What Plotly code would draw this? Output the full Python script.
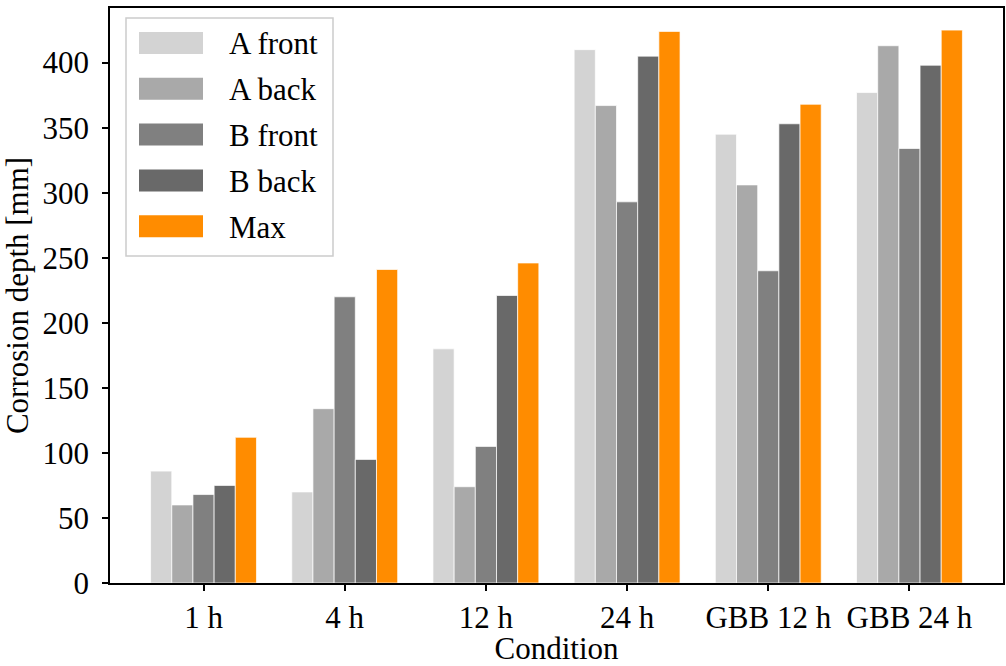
import plotly.graph_objects as go

categories = ["1 h", "4 h", "12 h", "24 h", "GBB 12 h", "GBB 24 h"]
series_names = ["A front", "A back", "B front", "B back", "Max"]
a_front = [86, 70, 180, 410, 345, 377]
a_back = [60, 134, 74, 367, 306, 413]
b_front = [68, 220, 105, 293, 240, 334]
b_back = [75, 95, 221, 405, 353, 398]
max_vals = [112, 241, 246, 424, 368, 425]
colors = ["#d3d3d3", "#a9a9a9", "#808080", "#696969", "#ff8c00"]
y_ticks = [0, 50, 100, 150, 200, 250, 300, 350, 400]

series_values = [a_front, a_back, b_front, b_back, max_vals]
FONT = "Liberation Serif, Times New Roman, serif"
FS = 31

fig = go.Figure()
for name, vals, col in zip(series_names, series_values, colors):
    fig.add_trace(go.Bar(
        x=categories, y=vals, name=name,
        marker=dict(color=col, line=dict(color="rgba(255,255,255,0.7)", width=1)),
        showlegend=False,
    ))

# manual matplotlib-style legend (positions in pixels, converted to plot-area fractions)
W, H = 1006, 666
ML, MR, MT, MB = 110, 3, 8, 83
PW, PH = W - ML - MR, H - MT - MB
def px(x): return (x - ML) / PW
def py(y): return (H - MB - y) / PH
L, R, T, B = 126, 333, 18, 256
shapes = [dict(type="rect", xref="paper", yref="paper",
               x0=px(L), x1=px(R), y0=py(B), y1=py(T),
               line=dict(color="#cccccc", width=1.5), fillcolor="rgba(255,255,255,0.8)",
               layer="above")]
annotations = []
for i, (name, col) in enumerate(zip(series_names, colors)):
    cy = 43 + i * 45.8
    shapes.append(dict(type="rect", xref="paper", yref="paper",
                       x0=px(139), x1=px(203), y0=py(cy + 11), y1=py(cy - 11),
                       line=dict(width=0), fillcolor=col, layer="above"))
    annotations.append(dict(xref="paper", yref="paper", x=px(227), y=py(cy + 1),
                            xanchor="left", yanchor="middle", text=name, showarrow=False,
                            font=dict(family=FONT, size=FS, color="black")))

fig.update_layout(
    width=W, height=H,
    margin=dict(l=ML, r=MR, t=MT, b=MB),
    paper_bgcolor="white", plot_bgcolor="white",
    barmode="group", bargap=0.25, bargroupgap=0,
    font=dict(family=FONT, size=FS, color="black"),
    shapes=shapes, annotations=annotations,
    xaxis=dict(
        range=[-0.6625, 5.6625], showline=True, linecolor="black", linewidth=1.5,
        mirror=True, ticks="outside", ticklen=6, tickwidth=1.5, tickcolor="black",
        showgrid=False, title=dict(text="Condition", standoff=5, font=dict(size=FS)),
        tickfont=dict(family=FONT, size=FS), automargin=False,
    ),
    yaxis=dict(
        range=[0, 442], showline=True, linecolor="black", linewidth=1.5,
        mirror=True, ticks="outside", ticklen=6, tickwidth=1.5, tickcolor="black",
        showgrid=False, tickvals=y_ticks, zeroline=False, ticklabelstandoff=7,
        title=dict(text="Corrosion depth [mm]", standoff=6, font=dict(size=FS)),
        tickfont=dict(family=FONT, size=FS), automargin=False,
    ),
)

fig.write_html("out.html")
